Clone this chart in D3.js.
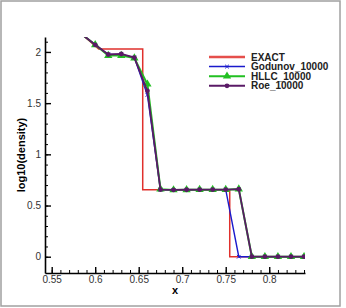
<!DOCTYPE html>
<html>
<head>
<meta charset="utf-8">
<script src="https://cdn.jsdelivr.net/npm/d3@7"></script>
<style>
  body { margin: 0; background: #fff; }
  text { font-family: "Liberation Sans", Arial, sans-serif; }
</style>
</head>
<body>
<svg id="chart" width="346" height="308"></svg>
<script>
// Data
const xGrid = [0.585, 0.6, 0.615, 0.63, 0.645, 0.66, 0.675, 0.69, 0.705, 0.72, 0.735, 0.75, 0.765, 0.78, 0.795, 0.81, 0.825, 0.84];
const godunov = [2.17, 2.07, 1.975, 1.975, 1.945, 1.58, 0.655, 0.652, 0.654, 0.655, 0.655, 0.655, 0, 0, 0, 0, 0, 0];
const hllc    = [2.17, 2.07, 1.965, 1.965, 1.94, 1.685, 0.66, 0.652, 0.654, 0.655, 0.655, 0.655, 0.66, 0, 0, 0, 0, 0];
const roe     = [2.17, 2.07, 1.975, 1.98, 1.945, 1.62, 0.655, 0.652, 0.654, 0.655, 0.655, 0.655, 0.66, 0, 0, 0, 0, 0];
const exactX  = [0.585, 0.604, 0.6546, 0.6546, 0.7546, 0.7546, 0.84];
const exactY  = [2.17, 2.029, 2.029, 0.654, 0.654, 0, 0];
const xTicks = [0.55, 0.6, 0.65, 0.7, 0.75, 0.8];
const yTicks = [0, 0.5, 1, 1.5, 2];
const seriesNames = ["EXACT", "Godunov_10000", "HLLC_10000", "Roe_10000"];
const seriesColors = ["#e0302c", "#1a1acc", "#22c022", "#5a1a66"];

const svg = d3.select("#chart");

// grey outer frame
svg.append("rect").attr("x", 1).attr("y", 1).attr("width", 339).attr("height", 305)
  .attr("fill", "none").attr("stroke", "#a0a0a0").attr("stroke-width", 1.5);

const m = { left: 45, right: 305, top: 37, bottom: 273 };
const x = d3.scaleLinear().domain([0.5423, 0.8411]).range([m.left, m.right]);
const y = d3.scaleLinear().domain([-0.159, 2.146]).range([m.bottom, m.top]);

// axes, ticks pointing inward
const xMinor = d3.range(0.55, 0.845, 0.01);
const yMinor = d3.range(0, 2.15, 0.1);
svg.append("g").attr("transform", `translate(0,${m.bottom})`)
  .call(d3.axisBottom(x).tickValues(xMinor).tickSizeInner(-3).tickSizeOuter(0).tickFormat(""))
  .call(g => g.select(".domain").remove());
svg.append("g").attr("transform", `translate(${m.left},0)`)
  .call(d3.axisLeft(y).tickValues(yMinor).tickSizeInner(-3).tickSizeOuter(0).tickFormat(""))
  .call(g => g.select(".domain").remove());

const xAxis = svg.append("g").attr("transform", `translate(0,${m.bottom})`)
  .call(d3.axisBottom(x).tickValues(xTicks).tickSizeInner(-6).tickSizeOuter(0).tickPadding(3).tickFormat(d3.format("")));
const yAxis = svg.append("g").attr("transform", `translate(${m.left},0)`)
  .call(d3.axisLeft(y).tickValues(yTicks).tickSizeInner(-6).tickSizeOuter(0).tickPadding(4).tickFormat(d3.format("")));
[xAxis, yAxis].forEach(g => {
  g.select(".domain").attr("stroke-width", 1.6);
  g.selectAll(".tick line").attr("stroke-width", 1.4);
  g.selectAll(".tick text").attr("font-size", 10).attr("fill", "#333")
    .attr("font-family", "'Liberation Sans', Arial, sans-serif");
});

svg.append("text").attr("x", 175).attr("y", 294).attr("text-anchor", "middle")
  .attr("font-size", 11).attr("font-weight", "bold").text("x");
svg.append("text").attr("transform", "translate(25,155) rotate(-90)").attr("text-anchor", "middle")
  .attr("font-size", 11).attr("font-weight", "bold").text("log10(density)");

// plot area clipping
svg.append("clipPath").attr("id", "clip").append("rect")
  .attr("x", m.left).attr("y", m.top).attr("width", m.right - m.left).attr("height", m.bottom - m.top);
const plot = svg.append("g").attr("clip-path", "url(#clip)");

const line = d3.line().x(d => x(d[0])).y(d => y(d[1]));

plot.append("path").datum(exactX.map((v, i) => [v, exactY[i]]))
  .attr("d", line).attr("fill", "none").attr("stroke", seriesColors[0]).attr("stroke-width", 1.5);

const numeric = [
  { vals: godunov, color: seriesColors[1], width: 1.4, marker: "x" },
  { vals: hllc, color: seriesColors[2], width: 2, marker: "tri" },
  { vals: roe, color: seriesColors[3], width: 1.8, marker: "circle" }
];

function drawMarker(g, type, color, cx, cy) {
  if (type === "circle") {
    g.append("circle").attr("cx", cx).attr("cy", cy).attr("r", 2.4).attr("fill", color);
  } else if (type === "tri") {
    g.append("path").attr("d", d3.symbol(d3.symbolTriangle, 30)()).attr("transform", `translate(${cx},${cy})`)
      .attr("fill", color);
  } else {
    g.append("path").attr("d", d3.symbol(d3.symbolTimes, 10)()).attr("transform", `translate(${cx},${cy})`)
      .attr("fill", "none").attr("stroke", color).attr("stroke-width", 1);
  }
}

numeric.forEach(s => {
  const pts = xGrid.map((v, i) => [v, s.vals[i]]);
  plot.append("path").datum(pts).attr("d", line).attr("fill", "none")
    .attr("stroke", s.color).attr("stroke-width", s.width);
  const mg = plot.append("g");
  pts.forEach(p => drawMarker(mg, s.marker, s.color, x(p[0]), y(p[1])));
});

// legend
const legend = svg.append("g");
const markerTypes = [null, "x", "tri", "circle"];
const legendWidths = [2.5, 1.5, 2, 2];
seriesNames.forEach((name, i) => {
  const ly = 57 + i * 9.6;
  legend.append("line").attr("x1", 209).attr("x2", 245).attr("y1", ly).attr("y2", ly)
    .attr("stroke", seriesColors[i]).attr("stroke-width", legendWidths[i]).attr("stroke-opacity", i === 0 ? 0.85 : 1);
  if (markerTypes[i]) drawMarker(legend, markerTypes[i], seriesColors[i], 227, ly);
  legend.append("text").attr("x", 251).attr("y", ly + 3.5).attr("font-size", 10)
    .attr("font-weight", "bold").attr("fill", "#222").text(name);
});
</script>
</body>
</html>
